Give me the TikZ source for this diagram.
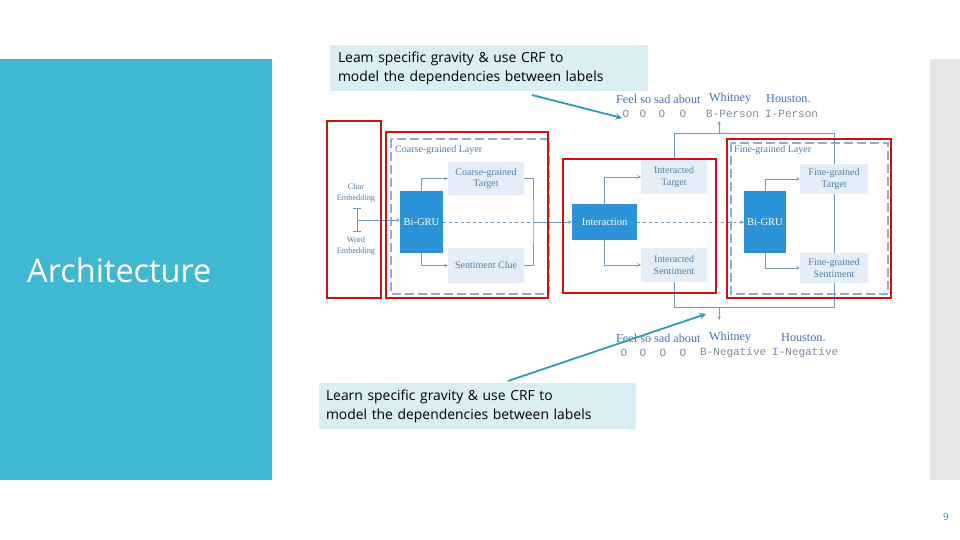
\documentclass[tikz,border=0pt]{standalone}
\usepackage{fontspec}
\setmainfont{Liberation Serif}
\newfontfamily\slidefont{Open Sans}
\newfontfamily\tagfont{Liberation Mono}
\usetikzlibrary{arrows}

\definecolor{panel}{HTML}{41B8D1}
\definecolor{greybar}{HTML}{E6E6E6}
\definecolor{callfill}{HTML}{DAEEF3}
\definecolor{pointer}{HTML}{2E9BB8}
\definecolor{redframe}{HTML}{CC1111}
\definecolor{grublue}{HTML}{2C93D8}
\definecolor{boxfill}{HTML}{E5EEF8}
\definecolor{labtext}{HTML}{4D7FAA}
\definecolor{wire}{HTML}{6F9CC0}
\definecolor{tagtext}{HTML}{7E8C99}

\tikzset{
  grubox/.style = {fill = grublue, text = white, inner sep = 0pt,
    font = \fontsize{10.5}{12}\selectfont},
  outbox/.style = {fill = boxfill, text = labtext, inner sep = 0pt, align = center,
    font = \fontsize{10}{11.5}\selectfont},
  redbox/.style = {draw = redframe, line width = 2.8pt},
  layerbox/.style = {draw = wire!80, line width = 1.2pt, dash pattern = on 9pt off 4pt},
  link/.style = {draw = wire, line width = 0.6pt, -stealth},
  plain/.style = {draw = wire, line width = 0.6pt},
  callout/.style = {fill = callfill, text = black, inner sep = 0pt, align = left,
    font = \slidefont\fontsize{13.9}{19}\selectfont},
  pointer/.style = {draw = pointer, line width = 1.8pt, -stealth},
  words/.style = {anchor = west, inner sep = 0pt, text = labtext!90!blue,
    font = \fontsize{12.2}{13}\selectfont},
  tags/.style = {inner sep = 0pt, text = tagtext,
    font = \tagfont\fontsize{11}{12}\selectfont}
}

\begin{document}
\begin{tikzpicture}[x = 1pt, y = -1pt]
\useasboundingbox (0,0) rectangle (960,540);
\fill [white] (0,0) rectangle (960,540);

% slide background
\fill [panel] (0,59) rectangle (272,480);
\fill [greybar] (930,59) rectangle (960,480);
\node (title) [anchor = west, inner sep = 0pt, text = white,
  font = \slidefont\fontsize{32.5}{34}\selectfont] at (27,270) {Architecture};
\node (pagenum) [inner sep = 0pt, text = pointer, font = \slidefont\fontsize{10}{11}\selectfont]
  at (946,517) {9};

% layers
\draw [layerbox] (391,139) rectangle (549,294);
\draw [layerbox] (731,143) rectangle (888,294);
\node (clayer) [anchor = west, inner sep = 0pt, text = labtext,
  font = \fontsize{10}{11}\selectfont] at (395,150) {Coarse-grained Layer};
\node (flayer) [anchor = west, inner sep = 0pt, text = labtext,
  font = \fontsize{10}{11}\selectfont] at (734,150) {Fine-grained Layer};

% embeddings
\node (char) [text = labtext, align = center, inner sep = 0pt,
  font = \fontsize{8.3}{10.5}\selectfont] at (356,193) {Char\\Embedding};
\node (word) [text = labtext, align = center, inner sep = 0pt,
  font = \fontsize{8.3}{10.5}\selectfont] at (356,246) {Word\\Embedding};
\coordinate (ibtop) at (357,208);
\coordinate (ibbot) at (357,231);
\coordinate (ibmid) at (357,220);
\draw [plain] (ibtop) -- (ibbot);
\draw [plain] (353,208) -- (361,208);
\draw [plain] (353,231) -- (361,231);

% boxes
\node (cgru) [grubox, minimum width = 43, minimum height = 62] at (421.5,222) {Bi-GRU};
\node (ctarget) [outbox, minimum width = 76, minimum height = 33] at (486,178.5)
  {Coarse-grained\\Target};
\node (cclue) [outbox, minimum width = 76, minimum height = 35] at (486,265.5)
  {Sentiment Clue};
\node (inter) [grubox, minimum width = 65, minimum height = 36] at (604.5,222) {Interaction};
\node (itarget) [outbox, minimum width = 66, minimum height = 34] at (674,177)
  {Interacted\\Target};
\node (isent) [outbox, minimum width = 66, minimum height = 34] at (674,265)
  {Interacted\\Sentiment};
\node (fgru) [grubox, minimum width = 42, minimum height = 62] at (765,222) {Bi-GRU};
\node (ftarget) [outbox, minimum width = 68, minimum height = 30] at (834,179)
  {Fine-grained\\Target};
\node (fsent) [outbox, minimum width = 68, minimum height = 30] at (834,268)
  {Fine-grained\\Sentiment};

% connections
\draw [link] (ibmid) -- (cgru.west |- ibmid);
\draw [link] (cgru.north) |- (ctarget.west);
\draw [link] (cgru.south) |- (cclue.west);
\coordinate (cmerge) at (533,222);
\draw [plain] (ctarget.east) -| (cmerge) |- (cclue.east);
\draw [plain, dashed] (cgru.east) -- (cmerge);
\draw [link] (cmerge) -- (inter.west);
\draw [link] (inter.north) |- (itarget.west);
\draw [link] (inter.south) |- (isent.west);
\draw [link, dashed] (inter.east) -- (fgru.west);
\draw [link] (fgru.north) |- (ftarget.west);
\draw [link] (fgru.south) |- (fsent.west);
\draw [plain] (ftarget.south) -- (fsent.north);

% outputs
\coordinate (topleft) at (674,133);
\coordinate (topright) at (834,133);
\coordinate (topmid) at (719,133);
\coordinate (botleft) at (674,307);
\coordinate (botright) at (834,307);
\coordinate (botmid) at (719,307);
\draw [plain] (itarget.north) -- (topleft) -- (topright) -- (ftarget.north);
\draw [plain] (isent.south) -- (botleft) -- (botright) -- (fsent.south);
\draw [link] (topmid) -- (719,121);
\draw [link] (botmid) -- (719,320);

% sentences
\node (tfeel) [words] at (616,99) {Feel so sad about};
\node (twhit) [words] at (709,99) {Whitney};
\node (thous) [words] at (766,99) {Houston.};
\node (to1) [tags] at (626,114) {O};
\node (to2) [tags] at (643,114) {O};
\node (to3) [tags] at (662,114) {O};
\node (to4) [tags] at (683,114) {O};
\node (tbp) [tags, anchor = west] at (706,114) {B-Person};
\node (tip) [tags, anchor = west] at (765,114) {I-Person};
\node (bfeel) [words] at (616,338) {Feel so sad about};
\node (bwhit) [words] at (709,338) {Whitney};
\node (bhous) [words] at (781,338) {Houston.};
\node (bo1) [tags] at (624,353) {O};
\node (bo2) [tags] at (643,353) {O};
\node (bo3) [tags] at (663,353) {O};
\node (bo4) [tags] at (683,353) {O};
\node (bbn) [tags, anchor = west] at (700,353) {B-Negative};
\node (bin) [tags, anchor = west] at (772,353) {I-Negative};

% highlights
\draw [redbox] (327,121) rectangle (381,298);
\draw [redbox] (386,132) rectangle (548,298);
\draw [redbox] (563,159) rectangle (716,293);
\draw [redbox] (727,139) rectangle (891,298);

% notes
\node (topnote) [callout, minimum width = 318, minimum height = 46, text width = 302]
  at (489,68) {Leam specific gravity \& use CRF to\\model the dependencies between labels};
\node (botnote) [callout, minimum width = 317, minimum height = 46, text width = 303]
  at (477.5,406) {Learn specific gravity \& use CRF to\\model the dependencies between labels};
\coordinate (topfrom) at (532,95);
\coordinate (topto) at (622,118);
\coordinate (botfrom) at (508,381);
\coordinate (botto) at (706,314);
\draw [pointer] (topfrom) -- (topto);
\draw [pointer] (botfrom) -- (botto);
\end{tikzpicture}
\end{document}
